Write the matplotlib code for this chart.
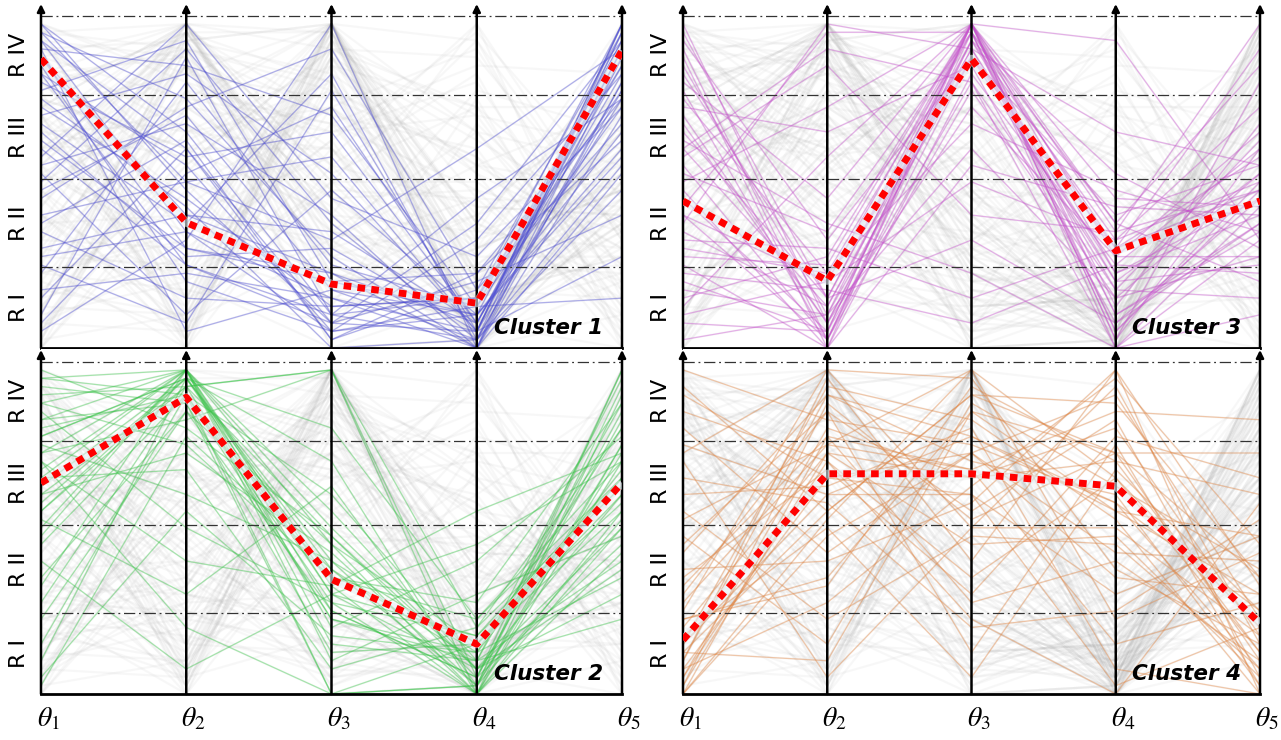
import numpy as np
import matplotlib
matplotlib.use("Agg")
import matplotlib.pyplot as plt

plt.rcParams['mathtext.fontset'] = 'stix'

# DATOS ---------------------------------------------------------------------
ejes = [r'$\theta_1$', r'$\theta_2$', r'$\theta_3$', r'$\theta_4$', r'$\theta_5$']
regiones = ['R I', 'R II', 'R III', 'R IV']
limites = [0.98, 2.03, 3.05, 4.0]      # limites de region (escala normalizada)

# lineas de cada cluster: [theta1, theta2, theta3, theta4, theta5]
cluster1 = [
    [3.9, 2.6, 0.4, 0.1, 3.8], [3.7, 1.4, 0.6, 0.2, 3.9], [3.5, 1.2, 0.9, 0.3, 3.6],
    [3.8, 3.0, 1.1, 0.0, 3.2], [3.3, 2.2, 0.2, 0.4, 3.7], [2.9, 1.8, 0.5, 0.6, 3.4],
    [3.6, 3.4, 2.8, 0.5, 2.9], [2.4, 1.0, 0.3, 0.2, 3.8], [1.9, 2.8, 0.7, 0.1, 3.1],
    [1.2, 1.6, 1.4, 0.3, 3.5], [0.6, 2.4, 0.1, 0.7, 2.7], [0.2, 1.3, 3.9, 0.0, 3.9],
    [2.1, 0.4, 1.9, 0.4, 2.4], [3.1, 3.7, 0.8, 0.9, 3.0], [1.6, 2.0, 2.3, 0.2, 3.6],
    [3.4, 0.8, 0.2, 1.3, 3.3], [2.7, 1.5, 3.3, 0.1, 2.2], [0.9, 3.2, 1.0, 0.5, 3.7],
    [3.9, 1.9, 0.3, 0.8, 1.6], [2.2, 2.7, 1.6, 0.0, 2.8], [1.4, 0.6, 0.5, 0.6, 3.9],
    [3.2, 2.3, 2.6, 0.3, 3.4], [0.4, 3.5, 0.4, 1.8, 3.0], [2.6, 1.1, 1.2, 0.2, 1.1],
    [3.6, 0.2, 0.7, 0.4, 2.6], [1.8, 2.9, 3.6, 0.7, 3.8], [3.0, 1.7, 0.0, 0.1, 3.2],
    [2.3, 3.9, 1.8, 1.1, 2.9], [0.7, 0.9, 0.6, 0.0, 2.1], [3.8, 2.0, 1.3, 2.4, 3.6],
    [1.1, 1.4, 0.2, 0.5, 0.6], [2.8, 3.3, 2.1, 0.2, 3.9], [3.5, 1.6, 0.9, 0.0, 3.5],
    [1.5, 2.5, 0.1, 0.9, 2.5], [0.3, 2.1, 2.9, 0.3, 3.3], [3.3, 1.0, 0.4, 0.6, 3.1],
    [2.0, 3.6, 1.5, 0.1, 1.9], [3.7, 2.4, 0.3, 1.5, 3.7], [1.0, 0.3, 3.1, 0.2, 3.0],
    [2.5, 1.2, 0.8, 0.4, 2.3],
]
cluster2 = [
    [2.6, 3.9, 1.2, 0.3, 2.4], [3.1, 3.8, 1.5, 0.1, 2.9], [2.2, 3.7, 0.9, 0.5, 3.2],
    [3.5, 3.9, 1.8, 0.0, 2.0], [1.8, 3.6, 1.1, 0.7, 2.6], [2.9, 3.3, 3.9, 0.2, 1.8],
    [3.8, 3.9, 0.6, 0.4, 3.5], [0.4, 3.8, 1.4, 0.9, 2.8], [2.4, 2.9, 1.7, 0.1, 3.9],
    [3.3, 3.5, 0.0, 0.6, 2.2], [1.3, 3.9, 2.2, 0.3, 1.5], [2.8, 1.6, 1.3, 0.0, 3.0],
    [3.6, 3.7, 3.9, 0.8, 2.5], [0.9, 3.4, 1.0, 0.2, 3.4], [2.0, 3.9, 0.4, 1.2, 1.9],
    [3.0, 2.4, 1.6, 0.5, 2.7], [2.5, 3.8, 2.8, 0.0, 3.6], [3.9, 3.2, 1.9, 0.3, 1.2],
    [1.6, 0.3, 1.2, 0.7, 2.3], [2.7, 3.9, 0.8, 1.6, 3.1], [3.2, 3.6, 0.0, 0.1, 2.1],
    [0.1, 3.1, 1.5, 0.4, 3.8], [2.3, 3.8, 3.2, 0.9, 2.6], [3.4, 2.0, 1.1, 0.0, 1.7],
    [1.1, 3.7, 1.9, 0.2, 3.3], [2.9, 3.9, 1.3, 2.2, 2.9], [3.7, 3.5, 0.5, 0.6, 2.4],
    [2.1, 1.2, 2.5, 0.1, 3.7], [0.6, 3.6, 0.9, 0.4, 0.9], [3.1, 3.8, 1.6, 0.0, 2.8],
    [2.6, 2.7, 0.3, 0.8, 3.2], [1.9, 3.9, 2.0, 0.3, 2.0], [3.5, 3.0, 1.4, 1.1, 3.5],
    [2.4, 3.7, 3.9, 0.0, 2.2], [0.2, 2.2, 0.7, 0.5, 1.4], [3.3, 3.9, 1.0, 0.2, 3.9],
    [1.4, 3.4, 1.8, 0.6, 2.6], [2.8, 0.8, 0.0, 0.1, 3.0], [3.8, 3.6, 2.4, 0.4, 1.6],
    [2.2, 3.8, 1.2, 1.8, 2.8],
]
cluster3 = [
    [1.8, 0.2, 3.9, 0.9, 1.6], [2.4, 0.5, 3.7, 1.3, 2.0], [1.2, 0.9, 3.8, 0.4, 1.4],
    [3.1, 0.1, 3.5, 1.6, 2.2], [0.6, 1.1, 3.9, 0.2, 1.9], [2.7, 0.3, 2.9, 1.1, 1.1],
    [1.5, 3.9, 3.6, 0.7, 2.5], [3.8, 0.6, 3.9, 1.8, 1.7], [0.3, 0.2, 3.2, 0.0, 1.3],
    [2.1, 1.4, 3.8, 1.2, 3.6], [3.4, 0.4, 2.4, 0.6, 2.1], [1.0, 0.0, 3.9, 1.5, 0.8],
    [2.9, 2.6, 3.4, 0.3, 1.5], [0.9, 0.7, 0.3, 1.0, 2.4], [3.6, 0.1, 3.7, 2.1, 1.2],
    [1.6, 0.8, 3.9, 0.1, 3.2], [2.3, 3.4, 1.6, 1.4, 1.9], [0.1, 0.4, 3.5, 0.8, 1.0],
    [3.2, 1.8, 3.9, 0.5, 2.7], [1.9, 0.0, 2.2, 1.7, 1.6], [2.6, 0.6, 3.8, 0.0, 0.4],
    [1.3, 1.2, 0.6, 1.2, 2.3], [3.9, 0.3, 3.6, 0.9, 1.8], [0.5, 2.3, 3.9, 1.4, 3.9],
    [2.2, 0.1, 3.1, 0.6, 1.1], [1.7, 3.8, 3.8, 0.2, 2.0], [3.0, 0.9, 2.7, 1.9, 1.4],
    [0.8, 0.2, 3.9, 1.1, 2.6], [2.5, 1.5, 0.9, 0.0, 1.7], [1.4, 0.5, 3.6, 2.6, 2.2],
    [3.5, 0.0, 3.3, 1.0, 0.9], [2.0, 2.9, 3.9, 0.4, 1.5], [0.4, 0.8, 2.0, 1.3, 2.9],
    [2.8, 0.3, 3.7, 0.8, 2.1], [1.1, 1.0, 3.9, 3.7, 1.3], [3.3, 0.6, 1.3, 0.3, 1.8],
    [1.6, 0.1, 3.8, 1.5, 3.4], [2.4, 3.6, 3.2, 0.7, 0.6], [0.7, 0.4, 3.9, 0.1, 2.4],
    [3.7, 1.3, 3.5, 1.2, 1.9],
]
cluster4 = [
    [0.1, 2.9, 2.6, 2.8, 0.5], [0.6, 2.4, 3.1, 2.2, 1.2], [1.2, 3.4, 2.2, 3.3, 0.2],
    [0.0, 1.9, 2.9, 1.7, 1.6], [2.1, 3.0, 3.9, 2.6, 0.8], [0.4, 3.8, 1.6, 3.9, 0.0],
    [3.6, 2.6, 2.4, 1.2, 1.9], [0.9, 1.4, 3.4, 2.9, 0.4], [0.2, 2.8, 0.9, 0.0, 2.3],
    [1.7, 3.6, 2.8, 2.4, 0.1], [0.5, 2.2, 3.6, 3.5, 1.4], [2.8, 0.2, 2.0, 2.0, 0.7],
    [0.0, 3.1, 2.7, 0.6, 1.1], [1.4, 2.7, 1.2, 3.1, 2.6], [3.9, 3.3, 3.0, 2.3, 0.3],
    [0.3, 1.1, 2.5, 3.8, 1.8], [1.0, 3.9, 3.8, 1.5, 0.6], [0.7, 2.0, 0.2, 2.7, 1.0],
    [2.4, 2.5, 3.2, 0.3, 0.0], [0.1, 3.5, 2.1, 2.9, 2.9], [3.2, 1.7, 2.9, 3.6, 0.9],
    [0.8, 2.9, 1.8, 1.9, 0.2], [1.9, 0.6, 3.5, 2.5, 1.5], [0.2, 3.2, 2.6, 3.2, 0.7],
    [2.6, 2.3, 0.8, 1.0, 2.1], [0.6, 3.7, 3.3, 2.1, 0.0], [1.5, 1.6, 2.3, 3.9, 1.3],
    [3.4, 2.8, 1.4, 2.6, 0.5], [0.0, 2.1, 3.9, 0.9, 1.7], [1.1, 3.0, 2.7, 3.4, 3.3],
    [2.2, 0.9, 1.9, 1.8, 0.3], [0.4, 3.6, 3.1, 2.3, 1.0], [3.0, 2.4, 2.4, 0.1, 0.8],
    [0.9, 1.3, 3.7, 2.8, 2.4], [1.8, 3.4, 0.5, 3.0, 0.1], [0.3, 2.6, 2.9, 1.4, 1.2],
    [2.9, 3.9, 2.0, 3.7, 0.6], [0.5, 0.4, 3.4, 2.2, 1.9], [1.3, 3.1, 1.1, 1.6, 0.4],
    [3.7, 2.2, 3.6, 2.9, 1.4],
]

# centroides (linea roja punteada)
centro1 = [3.48, 1.51, 0.77, 0.54, 3.58]
centro2 = [2.54, 3.57, 1.38, 0.60, 2.54]
centro3 = [1.77, 0.81, 3.48, 1.17, 1.77]
centro4 = [0.65, 2.65, 2.65, 2.50, 0.85]

clusters = [cluster1, cluster2, cluster3, cluster4]
centros = [centro1, centro2, centro3, centro4]
colores = ['#4a4ad6', '#35c845', '#c94fd0', '#e5843e']
nombres = ['Cluster 1', 'Cluster 2', 'Cluster 3', 'Cluster 4']

# posicion de cada panel [left, bottom, width, height] en fraccion de figura
paneles = [
    [41 / 1281, 0.5297, 581 / 1281, 0.466],    # cluster 1
    [41 / 1281, 0.0622, 581 / 1281, 0.466],    # cluster 2
    [683 / 1281, 0.5297, 577 / 1281, 0.466],   # cluster 3
    [683 / 1281, 0.0622, 577 / 1281, 0.466],   # cluster 4
]

todas = np.array(cluster1 + cluster2 + cluster3 + cluster4)
x = np.arange(5)

# GRAFICOS ------------------------------------------------------------------
fig = plt.figure(figsize=(12.81, 7.40), dpi=100)

for k in range(4):
    ax = fig.add_axes(paneles[k])
    ax.set_xlim(0, 4)
    ax.set_ylim(0, 4.15)
    ax.set_xticks([])
    ax.set_yticks([])
    for s in ['top', 'left', 'right']:
        ax.spines[s].set_visible(False)
    ax.spines['bottom'].set_linewidth(2)
    ax.spines['bottom'].set_color('black')

    # fondo: todas las muestras en gris
    for linea in todas:
        ax.plot(x, linea, color='#999999', lw=1.6, alpha=0.07, zorder=1)

    # lineas del cluster
    for linea in clusters[k]:
        ax.plot(x, linea, color=colores[k], lw=0.9, alpha=0.42, zorder=2)

    # limites de region
    for lim in limites:
        ax.plot([0, 4], [lim, lim], color='#333333', lw=0.9,
                ls=(0, (9, 3, 1.5, 3)), zorder=3)

    # ejes verticales con flecha
    for i in range(5):
        ax.annotate('', xy=(i, 4.14), xytext=(i, 0),
                    arrowprops=dict(arrowstyle='-|>', color='black', lw=1.8,
                                    mutation_scale=11, shrinkA=0, shrinkB=0),
                    annotation_clip=False, zorder=4)

    # centroide
    ax.plot(x, centros[k], color='#e6eef4', lw=6, alpha=0.6, zorder=5,
            solid_capstyle='butt')
    ax.plot(x, centros[k], color='red', lw=5, ls=(0, (1.1, 0.9)), zorder=6)

    # etiquetas de region
    bordes = [0] + limites
    for r in range(4):
        ax.text(-0.15, (bordes[r] + bordes[r + 1]) / 2, regiones[r],
                rotation=90, ha='center', va='center', fontsize=16,
                transform=ax.transData, clip_on=False)

    ax.text(3.87, 0.12, nombres[k], ha='right', va='bottom', fontsize=15.5,
            fontweight='bold', fontstyle='italic', zorder=7)

    # etiquetas theta solo abajo
    if k in (1, 3):
        for i in range(5):
            ax.text(i + 0.05, -0.29, ejes[i], ha='center', va='center',
                    fontsize=20, clip_on=False)

fig.savefig('out.png', dpi=100)
